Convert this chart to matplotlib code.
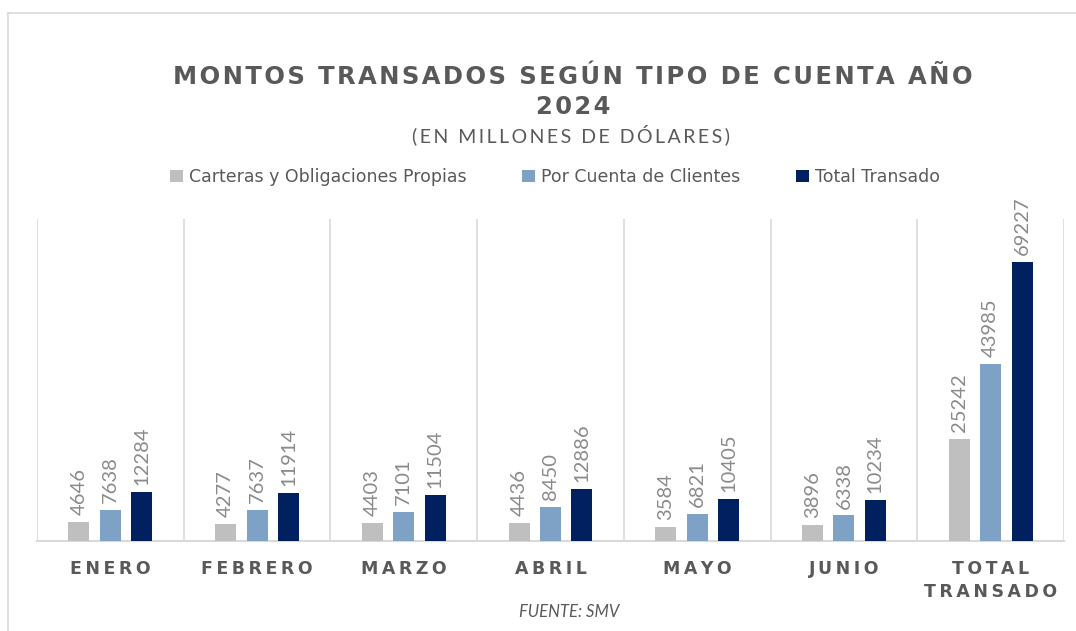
import matplotlib.pyplot as plt
import numpy as np
from matplotlib.patches import Patch
from matplotlib.lines import Line2D

meses = ['ENERO', 'FEBRERO', 'MARZO', 'ABRIL', 'MAYO', 'JUNIO', 'TOTAL\nTRANSADO']
propias = [4646, 4277, 4403, 4436, 3584, 3896, 25242]
clientes = [7638, 7637, 7101, 8450, 6821, 6338, 43985]
total = [12284, 11914, 11504, 12886, 10405, 10234, 69227]
series_names = ['Carteras y Obligaciones Propias', 'Por Cuenta de Clientes', 'Total Transado']
colores = ['#BFBFBF', '#7EA1C6', '#002060']

TXT = '#595959'
GRID = '#D9D9D9'


def spaced(s, sep='\u200a'):
    # poor man's letter spacing
    return '\n'.join(sep.join(ch for ch in line) for line in s.split('\n'))


W, H = 1076, 631
fig = plt.figure(figsize=(W / 100, H / 100), dpi=100)
ax = fig.add_axes([37 / W, 1 - 541 / H, (1064 - 37) / W, (541 - 219) / H])

x = np.arange(len(meses))
bw = 0.143
off = 0.214
for k, (vals, col) in enumerate(zip([propias, clientes, total], colores)):
    pos = x + (k - 1) * off
    bars = ax.bar(pos, vals, width=bw, color=col, zorder=3)
    for b, v in zip(bars, vals):
        ax.annotate(str(v), (b.get_x() + b.get_width() / 2, b.get_height()),
                    xytext=(0, 5), textcoords='offset points', rotation=90,
                    ha='center', va='bottom', fontsize=14.5, color='#8A8A8A',
                    family='Lato')

ax.set_xlim(-0.5, len(meses) - 0.5)
ax.set_ylim(0, 80000)
for b in np.arange(-0.5, len(meses), 1.0):
    ax.axvline(b, color=GRID, lw=1.2, zorder=1)

for s in ['top', 'right', 'left']:
    ax.spines[s].set_visible(False)
ax.spines['bottom'].set_color(GRID)
ax.spines['bottom'].set_linewidth(1.5)
ax.set_yticks([])
ax.set_xticks(x)
ax.set_xticklabels([spaced(m, '\u2009') for m in meses], fontsize=12.5,
                   fontweight='bold', color=TXT, linespacing=1.3, va='top')
ax.tick_params(axis='x', length=0, pad=14)

# titles
fig.text(573 / W, 1 - 77 / H, spaced('MONTOS TRANSADOS SEGÚN TIPO DE CUENTA AÑO'),
         ha='center', va='center', fontsize=17.5, fontweight='bold', color=TXT)
fig.text(573 / W, 1 - 107 / H, spaced('2024'),
         ha='center', va='center', fontsize=17.5, fontweight='bold', color=TXT)
fig.text(571 / W, 1 - 135 / H, spaced('(EN MILLONES DE DÓLARES)', '\u2009'),
         ha='center', va='center', fontsize=14, color=TXT, family='Lato')

handles = [Patch(facecolor=c, edgecolor='none') for c in colores]
fig.legend(handles, series_names, loc='center', bbox_to_anchor=(555 / W, 1 - 177 / H),
           ncol=3, frameon=False, fontsize=12.5, labelcolor=TXT,
           handlelength=0.75, handleheight=0.75, handletextpad=0.35, columnspacing=3.2)

fig.text(569 / W, 1 - 612 / H, 'FUENTE: SMV', ha='center', va='center',
         fontsize=12, style='italic', color=TXT, family='Lato')

# outer frame (top + left edge visible in the reference)
fig.add_artist(Line2D([8 / W, 1.0], [1 - 13 / H, 1 - 13 / H], color=GRID, lw=1.2))
fig.add_artist(Line2D([8 / W, 8 / W], [0.0, 1 - 13 / H], color=GRID, lw=1.2))

fig.savefig('out.png', dpi=100, facecolor='white')
